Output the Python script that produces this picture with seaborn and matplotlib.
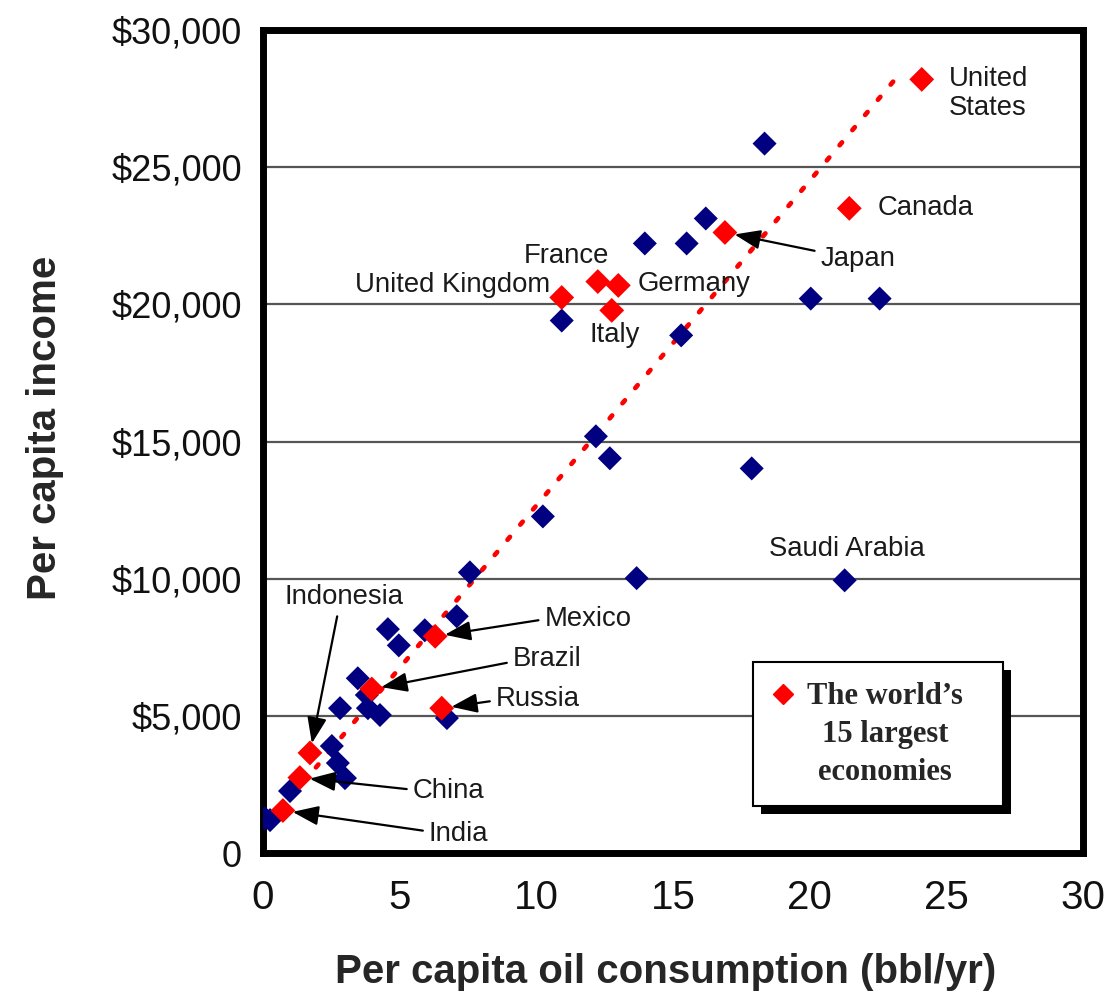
import matplotlib
matplotlib.use('Agg')
import matplotlib.pyplot as plt
from matplotlib.lines import Line2D
from matplotlib.patches import Rectangle
from matplotlib.ticker import FuncFormatter
from matplotlib.transforms import IdentityTransform
import seaborn as sns
import pandas as pd

# 15 largest economies (red)
econ_names = ['United States', 'Canada', 'Japan', 'France', 'Germany', 'United Kingdom', 'Italy',
              'Mexico', 'Brazil', 'Russia', 'Indonesia', 'China', 'India']
econ_oil = [24.1, 21.45, 16.9, 12.25, 13.0, 10.93, 12.76, 6.3, 3.98, 6.54, 1.72, 1.35, 0.73]
econ_income = [28200, 23500, 22620, 20830, 20690, 20250, 19780, 7900, 5980, 5280, 3650, 2750, 1550]

# other countries (blue)
other_oil = [18.35, 16.2, 13.97, 15.5, 10.93, 15.3, 20.04, 22.56, 12.18, 12.69, 17.88, 10.24,
             7.57, 13.67, 21.28, 7.09, 5.92, 4.57, 4.97, 3.47, 3.8, 2.82, 3.84, 4.28, 6.73,
             2.52, 2.74, 3.0, 0.99, 0.07, 0.26]
other_income = [25860, 23130, 22220, 22220, 19410, 18870, 20210, 20210, 15190, 14390, 14020, 12270,
                10230, 10020, 9940, 8630, 8120, 8160, 7570, 6370, 5760, 5280, 5280, 5030, 4920,
                3900, 3280, 2730, 2260, 1270, 1200]

# trend line end points
trend_oil = [0.07, 23.36]
trend_income = [910, 28480]

econ = pd.DataFrame({'oil': econ_oil, 'income': econ_income, 'name': econ_names})
other = pd.DataFrame({'oil': other_oil, 'income': other_income})
trend = pd.DataFrame({'oil': trend_oil, 'income': trend_income})

sns.set_style('white')
plt.rcParams['font.family'] = ['Liberation Sans', 'DejaVu Sans']

fig = plt.figure(figsize=(11.18, 9.97), dpi=100)
ax = fig.add_axes([0.2352, 0.1444, 0.7335, 0.8255])

sns.lineplot(data=trend, x='oil', y='income', ax=ax, color='red', linewidth=3.4,
             dashes=False, zorder=2)
ax.lines[-1].set_dashes([0.8, 3.4])
ax.lines[-1].set_dash_capstyle('round')
sns.scatterplot(data=other, x='oil', y='income', ax=ax, marker='D', s=150,
                color='#000080', edgecolor='none', zorder=3)
sns.scatterplot(data=econ, x='oil', y='income', ax=ax, marker='D', s=160,
                color='#ff0000', edgecolor='none', zorder=4)

ax.set_xlim(0, 30)
ax.set_ylim(0, 30000)
ax.set_xticks(range(0, 31, 5))
ax.set_yticks(range(0, 30001, 5000))
ax.yaxis.set_major_formatter(FuncFormatter(lambda v, _: '0' if v == 0 else f'${v:,.0f}'))
ax.grid(axis='y', color='#555555', linewidth=1.6)
ax.grid(axis='x', visible=False)
ax.set_axisbelow(True)
for s in ax.spines.values():
    s.set_visible(True)
    s.set_linewidth(5)
    s.set_color('black')
ax.tick_params(axis='x', length=5, width=1.5, pad=14, labelsize=29, color='#333', labelcolor='#111')
ax.tick_params(axis='y', length=0, pad=15, labelsize=26, labelcolor='#111')

ax.set_xlabel('Per capita oil consumption (bbl/yr)', fontsize=29, fontweight='bold')
ax.set_ylabel('Per capita income', fontsize=29, fontweight='bold')
ax.xaxis.set_label_coords(0.491, -0.122)
ax.yaxis.set_label_coords(-0.243, 0.517)

# plain labels (text position in data units)
plain_labels = {
    'United States': (25.1, 27680, 'left'),
    'Canada': (22.5, 23530, 'left'),
    'France': (11.1, 21780, 'center'),
    'United Kingdom': (10.5, 20720, 'right'),
    'Germany': (13.7, 20760, 'left'),
    'Italy': (11.95, 18870, 'left'),
}
lab = dict(fontsize=19.8, color='#1a1a1a')
for name, (tx, ty, ha) in plain_labels.items():
    txt = 'United\nStates' if name == 'United States' else name
    ax.text(tx, ty, txt, ha=ha, va='center', linespacing=1.15, **lab)
ax.text(18.5, 11070, 'Saudi Arabia', ha='left', va='center', **lab)

# arrow labels: text position, arrow start on the text box
arrow_labels = {
    'Japan': (20.4, 21670, (0, 0.75)),
    'Mexico': (10.3, 8520, (0, 0.5)),
    'Brazil': (9.14, 7070, (0, 0.4)),
    'Russia': (8.52, 5610, (0, 0.45)),
    'Indonesia': (0.8, 9320, (0.45, 0)),
    'China': (5.48, 2260, (0, 0.55)),
    'India': (6.07, 690, (0, 0.6)),
}
for name, (tx, ty, rel) in arrow_labels.items():
    row = econ[econ['name'] == name].iloc[0]
    ax.annotate(name, xy=(row['oil'], row['income']), xytext=(tx, ty), ha='left', va='center',
                arrowprops=dict(arrowstyle='-|>,head_length=0.8,head_width=0.3', color='black',
                                lw=1.6, relpos=rel, shrinkA=2, shrinkB=7), **lab)

# legend: frame and shadow drawn by hand so the box can be wider on the right
handle = Line2D([], [], marker='D', color='#ff0000', linestyle='none', markersize=10)
leg = ax.legend([handle], ["The world\u2019s\n15 largest\neconomies"], loc='lower left',
                bbox_to_anchor=(0.579, 0.038), frameon=False, handletextpad=0.46,
                borderpad=0.65, handlelength=0.65,
                prop={'family': 'Liberation Serif', 'weight': 'bold', 'size': 22})
leg.get_texts()[0].set_multialignment('center')
leg.get_texts()[0].set_linespacing(1.4)
leg.set_zorder(6)
lh = leg.legend_handles[0]
lh.set_ydata([y + 29 for y in lh.get_ydata()])

fig.canvas.draw()
bb = leg.get_window_extent()
box_w = bb.width + 20
ax.add_patch(Rectangle((bb.x0 + 8, bb.y0 - 8), box_w, bb.height, transform=IdentityTransform(),
                       facecolor='black', edgecolor='none', zorder=5.4, clip_on=False))
ax.add_patch(Rectangle((bb.x0, bb.y0), box_w, bb.height, transform=IdentityTransform(),
                       facecolor='white', edgecolor='black', linewidth=1.5, zorder=5.5,
                       clip_on=False))

fig.savefig('out.png', dpi=100)
